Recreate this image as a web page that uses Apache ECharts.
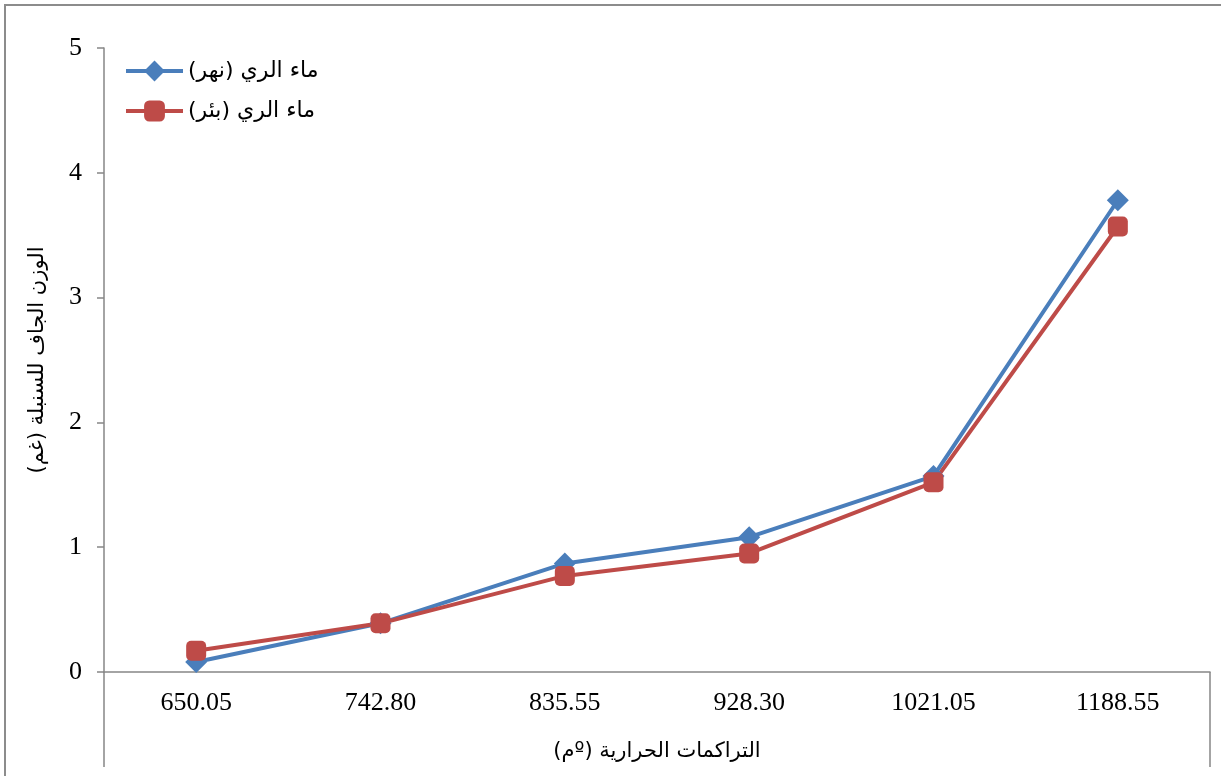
<!DOCTYPE html>
<html>
<head>
<meta charset="utf-8">
<script src="https://cdn.jsdelivr.net/npm/echarts@6/dist/echarts.min.js"></script>
<style>
html,body{margin:0;padding:0;background:#fff;}
#chart{width:1221px;height:776px;}
</style>
</head>
<body>
<div id="chart" dir="rtl"></div>
<script>
const categories = ['650.05', '742.80', '835.55', '928.30', '1021.05', '1188.55'];
const riverValues = [0.08, 0.39, 0.87, 1.08, 1.57, 3.78];
const wellValues = [0.17, 0.39, 0.77, 0.95, 1.52, 3.57];
const seriesNames = ['ماء الري (نهر)', 'ماء الري (بئر)'];
const xTitle = 'التراكمات الحرارية (ºم)';
const yTitle = 'الوزن الجاف للسنبلة (غم)';

const serif = '"Liberation Serif", "Times New Roman", serif';
const arabic = '"DejaVu Sans", "Noto Sans", sans-serif';
const axisGray = '#868686';

const chart = echarts.init(document.getElementById('chart'), null, {renderer: 'canvas'});
chart.setOption({
  animation: false,
  backgroundColor: '#fff',
  grid: {left: 104, right: 11, top: 48, bottom: 104, containLabel: false},
  legend: {
    left: 119, top: 55, orient: 'vertical',
    itemWidth: 57, itemHeight: 26, itemGap: 18,
    lineStyle: {width: 4},
    textStyle: {fontFamily: arabic, fontSize: 22, color: '#000'},
    data: seriesNames
  },
  xAxis: {
    type: 'category', data: categories, boundaryGap: true,
    axisLine: {lineStyle: {color: axisGray, width: 1.5}},
    axisTick: {alignWithLabel: true, inside: true, length: 6, lineStyle: {color: axisGray, width: 1.5}},
    axisLabel: {fontFamily: serif, fontSize: 26, color: '#000', margin: 18},
    name: xTitle, nameLocation: 'middle', nameGap: 69,
    nameTextStyle: {fontFamily: arabic, fontSize: 21, color: '#000'}
  },
  yAxis: {
    type: 'value', min: 0, max: 5, interval: 1,
    splitLine: {show: false},
    axisLine: {show: true, lineStyle: {color: axisGray, width: 1.5}},
    axisTick: {show: true, length: 7, lineStyle: {color: axisGray, width: 1.5}},
    axisLabel: {fontFamily: serif, fontSize: 26, color: '#000', margin: 22},
    name: yTitle, nameLocation: 'middle', nameGap: 56, nameRotate: 90,
    nameTextStyle: {fontFamily: arabic, fontSize: 21, color: '#000'}
  },
  series: [
    {
      name: seriesNames[0], type: 'line', data: riverValues,
      symbol: 'diamond', symbolSize: 22,
      lineStyle: {color: '#4A7EBB', width: 4},
      itemStyle: {color: '#4A7EBB'}
    },
    {
      name: seriesNames[1], type: 'line', data: wellValues,
      symbol: 'roundRect', symbolSize: 20,
      lineStyle: {color: '#BE4B48', width: 4},
      itemStyle: {color: '#BE4B48'}
    }
  ],
  graphic: [
    {type: 'rect', shape: {x: 5, y: 5, width: 1400, height: 1000}, style: {fill: 'none', stroke: '#8c8c8c', lineWidth: 2}, silent: true, z: -1},
    {type: 'line', shape: {x1: 104, y1: 672, x2: 104, y2: 767}, style: {stroke: axisGray, lineWidth: 1.5}, silent: true},
    {type: 'line', shape: {x1: 1210, y1: 672, x2: 1210, y2: 767}, style: {stroke: axisGray, lineWidth: 1.5}, silent: true}
  ]
});
</script>
</body>
</html>
